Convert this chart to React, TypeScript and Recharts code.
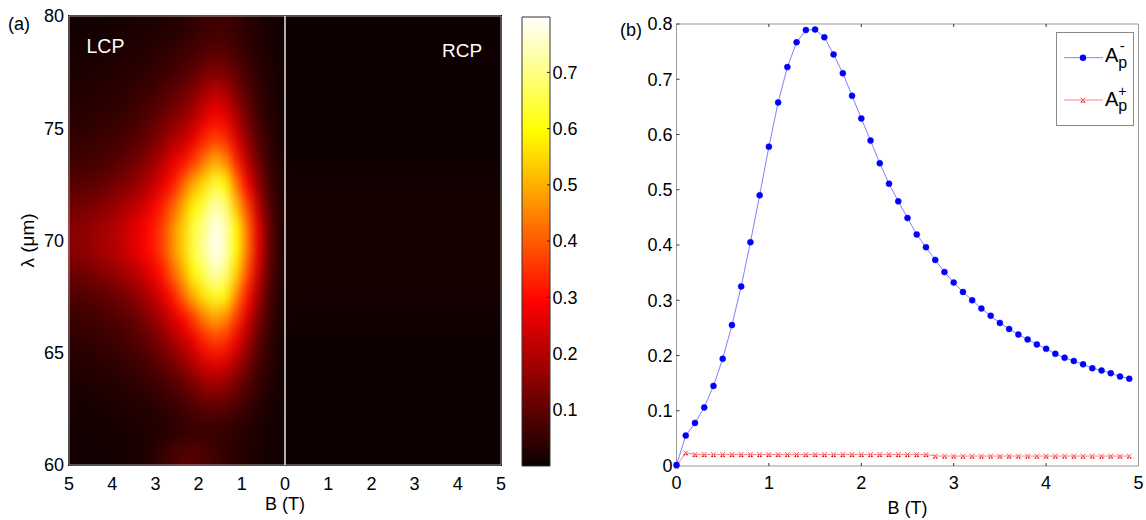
import React from 'react';
import {
  ScatterChart, Scatter, XAxis, YAxis,
  LineChart, Line, BarChart, Bar, Legend,
} from 'recharts';

const FONT = '"Liberation Sans", Arial, Helvetica, sans-serif';

// ---------- panel (a): absorption map ----------
// LCP side on a 0.25 T x 1 um grid (cell centres)
const lcpB = [0.125, 0.375, 0.625, 0.875, 1.125, 1.375, 1.625, 1.875, 2.125, 2.375,
  2.625, 2.875, 3.125, 3.375, 3.625, 3.875, 4.125, 4.375, 4.625, 4.875];
const lambdaRows = [79.5, 78.5, 77.5, 76.5, 75.5, 74.5, 73.5, 72.5, 71.5, 70.5,
  69.5, 68.5, 67.5, 66.5, 65.5, 64.5, 63.5, 62.5, 61.5, 60.5];
const lcpGrid = [
  [0.01, 0.015, 0.025, 0.035, 0.05, 0.06, 0.06, 0.055, 0.045, 0.035, 0.03, 0.025, 0.02, 0.018, 0.015, 0.014, 0.012, 0.01, 0.01, 0.01],
  [0.01, 0.02, 0.03, 0.045, 0.065, 0.085, 0.09, 0.08, 0.065, 0.055, 0.045, 0.038, 0.032, 0.028, 0.025, 0.022, 0.02, 0.018, 0.016, 0.015],
  [0.012, 0.025, 0.04, 0.065, 0.1, 0.13, 0.14, 0.125, 0.1, 0.08, 0.065, 0.055, 0.045, 0.04, 0.035, 0.03, 0.027, 0.024, 0.022, 0.02],
  [0.015, 0.03, 0.05, 0.09, 0.14, 0.2, 0.22, 0.19, 0.15, 0.12, 0.1, 0.08, 0.065, 0.055, 0.045, 0.04, 0.035, 0.032, 0.03, 0.028],
  [0.018, 0.035, 0.065, 0.12, 0.19, 0.26, 0.29, 0.25, 0.2, 0.165, 0.14, 0.11, 0.09, 0.072, 0.06, 0.052, 0.046, 0.042, 0.038, 0.035],
  [0.02, 0.045, 0.09, 0.16, 0.25, 0.34, 0.37, 0.33, 0.27, 0.22, 0.19, 0.15, 0.12, 0.095, 0.08, 0.068, 0.06, 0.054, 0.05, 0.046],
  [0.025, 0.055, 0.12, 0.21, 0.33, 0.46, 0.5, 0.44, 0.36, 0.3, 0.26, 0.2, 0.16, 0.13, 0.11, 0.092, 0.08, 0.072, 0.066, 0.06],
  [0.03, 0.07, 0.16, 0.29, 0.43, 0.59, 0.64, 0.56, 0.5, 0.41, 0.31, 0.26, 0.21, 0.175, 0.15, 0.13, 0.115, 0.1, 0.095, 0.09],
  [0.035, 0.09, 0.21, 0.37, 0.52, 0.69, 0.74, 0.66, 0.59, 0.49, 0.4, 0.32, 0.27, 0.23, 0.2, 0.175, 0.155, 0.14, 0.13, 0.12],
  [0.04, 0.11, 0.26, 0.43, 0.59, 0.74, 0.79, 0.71, 0.65, 0.54, 0.45, 0.36, 0.31, 0.27, 0.24, 0.21, 0.19, 0.175, 0.16, 0.15],
  [0.04, 0.11, 0.26, 0.43, 0.59, 0.74, 0.79, 0.72, 0.65, 0.54, 0.45, 0.36, 0.31, 0.27, 0.24, 0.21, 0.19, 0.175, 0.16, 0.15],
  [0.035, 0.1, 0.23, 0.38, 0.54, 0.69, 0.74, 0.67, 0.6, 0.49, 0.4, 0.31, 0.26, 0.22, 0.19, 0.17, 0.15, 0.135, 0.125, 0.115],
  [0.03, 0.08, 0.18, 0.31, 0.45, 0.59, 0.63, 0.57, 0.5, 0.41, 0.31, 0.25, 0.2, 0.165, 0.14, 0.12, 0.105, 0.095, 0.085, 0.08],
  [0.025, 0.065, 0.14, 0.24, 0.35, 0.45, 0.48, 0.44, 0.36, 0.29, 0.24, 0.19, 0.15, 0.12, 0.1, 0.085, 0.075, 0.068, 0.062, 0.056],
  [0.02, 0.05, 0.1, 0.18, 0.27, 0.34, 0.36, 0.33, 0.27, 0.22, 0.18, 0.14, 0.11, 0.09, 0.075, 0.063, 0.055, 0.05, 0.045, 0.042],
  [0.016, 0.04, 0.075, 0.13, 0.19, 0.24, 0.26, 0.24, 0.2, 0.16, 0.125, 0.1, 0.08, 0.065, 0.055, 0.046, 0.04, 0.036, 0.033, 0.03],
  [0.013, 0.03, 0.05, 0.085, 0.12, 0.155, 0.17, 0.16, 0.13, 0.1, 0.08, 0.065, 0.052, 0.044, 0.038, 0.032, 0.028, 0.025, 0.022, 0.02],
  [0.01, 0.02, 0.032, 0.05, 0.07, 0.088, 0.095, 0.092, 0.078, 0.062, 0.05, 0.04, 0.033, 0.028, 0.024, 0.02, 0.018, 0.016, 0.015, 0.014],
  [0.008, 0.014, 0.02, 0.03, 0.04, 0.048, 0.052, 0.054, 0.05, 0.045, 0.038, 0.03, 0.024, 0.02, 0.016, 0.014, 0.012, 0.011, 0.01, 0.01],
  [0.008, 0.012, 0.018, 0.026, 0.036, 0.048, 0.062, 0.078, 0.09, 0.088, 0.072, 0.05, 0.032, 0.022, 0.016, 0.012, 0.01, 0.01, 0.01, 0.01],
];
// RCP side is almost flat, one value per wavelength row
const rcpCol = [0.004, 0.004, 0.004, 0.004, 0.004, 0.004, 0.005, 0.01, 0.012, 0.012,
  0.012, 0.012, 0.011, 0.006, 0.005, 0.004, 0.004, 0.004, 0.004, 0.004];

const cMax = 0.7985;
const mapTicksB = [-5, -4, -3, -2, -1, 0, 1, 2, 3, 4, 5];
const mapTicksL = [60, 65, 70, 75, 80];
const barTicks = [0.1, 0.2, 0.3, 0.4, 0.5, 0.6, 0.7];
// B = 0 divider and the box round the map
const dividerPts = [{ x: 0, y: 60 }, { x: 0, y: 80 }];
const framePts = [{ x: -5, y: 60 }, { x: -5, y: 80 }, { x: 5, y: 80 }, { x: 5, y: 60 }, { x: -5, y: 60 }];

// ---------- panel (b): A_p versus B ----------
const fieldB = [0, 0.1, 0.2, 0.3, 0.4, 0.5, 0.6, 0.7, 0.8, 0.9, 1, 1.1, 1.2, 1.3, 1.4, 1.5, 1.6,
  1.7, 1.8, 1.9, 2, 2.1, 2.2, 2.3, 2.4, 2.5, 2.6, 2.7, 2.8, 2.9, 3, 3.1, 3.2, 3.3, 3.4, 3.5,
  3.6, 3.7, 3.8, 3.9, 4, 4.1, 4.2, 4.3, 4.4, 4.5, 4.6, 4.7, 4.8, 4.9];
const apMinus = [0.002, 0.055, 0.078, 0.106, 0.145, 0.194, 0.255, 0.325, 0.405, 0.49, 0.578,
  0.658, 0.722, 0.767, 0.789, 0.79, 0.776, 0.745, 0.711, 0.67, 0.629, 0.589, 0.548, 0.511,
  0.479, 0.449, 0.419, 0.396, 0.373, 0.351, 0.332, 0.315, 0.3, 0.285, 0.272, 0.259, 0.248,
  0.238, 0.229, 0.22, 0.212, 0.203, 0.196, 0.19, 0.184, 0.177, 0.173, 0.168, 0.162, 0.158];
const apPlus = [0, 0.024, 0.021, 0.021, 0.021, 0.021, 0.021, 0.021, 0.021, 0.021, 0.021,
  0.021, 0.021, 0.021, 0.021, 0.021, 0.021, 0.021, 0.021, 0.021, 0.021, 0.021, 0.021, 0.021,
  0.021, 0.021, 0.021, 0.021, 0.018, 0.018, 0.018, 0.018, 0.018, 0.018, 0.018, 0.018, 0.018,
  0.018, 0.018, 0.018, 0.018, 0.018, 0.018, 0.018, 0.018, 0.018, 0.018, 0.018, 0.018, 0.018];
const bTicks = [0, 1, 2, 3, 4, 5];
const aTicks = [0, 0.1, 0.2, 0.3, 0.4, 0.5, 0.6, 0.7, 0.8];

// matlab "hot" colormap
const hot = (v: number) => {
  const t = Math.max(0, Math.min(1, v / cMax));
  const k = t * 63 + 1;
  const r = Math.min(1, k / 24);
  const g = Math.max(0, Math.min(1, (k - 24) / 24));
  const b = Math.max(0, Math.min(1, (k - 48) / 16));
  return `rgb(${Math.round(r * 255)},${Math.round(g * 255)},${Math.round(b * 255)})`;
};

const heatCells = [
  ...lambdaRows.flatMap((lam, i) =>
    lcpB.map((b, j) => ({ x: -b, y: lam, w: 0.25, h: 1, v: lcpGrid[i][j] }))),
  ...lambdaRows.map((lam, i) => ({ x: 2.5, y: lam, w: 5, h: 1, v: rcpCol[i] })),
];

const lineRows = fieldB.map((b, i) => ({ b, am: apMinus[i], ap: apPlus[i] }));
const barRows = [{ name: 'cb', top: cMax }];

// plot area of panel (a) is 432 x 449 px for 10 T x 20 um
const PX_B = 43.2;
const PX_L = 22.45;

const HeatCell = (p: any) => {
  const { cx, cy, payload } = p;
  const w = payload.w * PX_B;
  const h = payload.h * PX_L;
  return <rect x={cx - w / 2 - 0.3} y={cy - h / 2 - 0.3} width={w + 0.6} height={h + 0.6} fill={hot(payload.v)} />;
};

const NoMark = () => <g />;

const XMark = (p: any) => {
  const { cx, cy, index } = p;
  const s = 2.4;
  return (
    <g key={`xm${index}`}>
      <path d={`M${cx - s},${cy - s}L${cx + s},${cy + s}M${cx - s},${cy + s}L${cx + s},${cy - s}`} stroke="#ff5a5a" strokeWidth={1} />
      <circle cx={cx - 1.2} cy={cy + 2} r={0.8} fill="#d00000" />
      <circle cx={cx + 1.2} cy={cy + 2} r={0.8} fill="#d00000" />
    </g>
  );
};

const LegendBox = () => (
  <svg width={78} height={94} style={{ display: 'block', fontFamily: FONT }}>
    <rect x={0.5} y={0.5} width={77} height={93} fill="#fff" stroke="#8a8a8a" />
    <line x1={8} x2={47} y1={25.7} y2={25.7} stroke="#8080ff" />
    <circle cx={27} cy={25.7} r={3.2} fill="#0000ff" />
    <text x={49} y={30.3} fontSize={20} fill="#000">
      A<tspan fontSize={16} dy={5.3}>p</tspan><tspan fontSize={15} dx={-7.5} dy={-16.5}>-</tspan>
    </text>
    <line x1={8} x2={47} y1={68} y2={68} stroke="#ff8080" />
    <XMark cx={27} cy={68} index={0} />
    <text x={49} y={73.7} fontSize={20} fill="#000">
      A<tspan fontSize={16} dy={5.3}>p</tspan><tspan fontSize={14} dx={-9} dy={-15}>+</tspan>
    </text>
  </svg>
);

const tickStyle = { fill: '#000', fontSize: 18, fontFamily: FONT };
const AX = '#9a9a9a';

export default function App() {
  return (
    <div style={{ position: 'relative', width: 1146, height: 520, fontFamily: FONT, background: '#fff', overflow: 'hidden' }}>
      <style>{'body{margin:0} .heat .heat-cells{filter:url(#heatBlur)}'}</style>
      <svg width={0} height={0} style={{ position: 'absolute' }}>
        <defs>
          <filter id="heatBlur" x="0" y="0" width="1" height="1" colorInterpolationFilters="sRGB">
            <feGaussianBlur stdDeviation="4 9" edgeMode="duplicate" />
            <feComponentTransfer>
              <feFuncA type="linear" slope="0" intercept="1" />
            </feComponentTransfer>
          </filter>
          <linearGradient id="hotGrad" x1="0" y1="1" x2="0" y2="0">
            <stop offset="0" stopColor="#0b0000" />
            <stop offset="0.365" stopColor="#ff0000" />
            <stop offset="0.746" stopColor="#ffff00" />
            <stop offset="1" stopColor="#ffffff" />
          </linearGradient>
        </defs>
      </svg>

      {/* panel (a) map */}
      <div className="heat" style={{ position: 'absolute', left: 0, top: 0 }}>
        <ScatterChart width={510} height={520} margin={{ top: 16, right: 9, bottom: 25, left: 29 }}>
          <XAxis
            dataKey="x" type="number" domain={[-5, 5]} ticks={mapTicksB}
            tickFormatter={(v: number) => String(Math.abs(v))}
            tick={tickStyle} tickLine={false} tickSize={0} tickMargin={12}
            axisLine={{ stroke: AX }} height={30}
            label={{ value: 'B (T)', position: 'bottom', offset: 2, fill: '#000', fontSize: 18, fontFamily: FONT }}
          />
          <YAxis
            dataKey="y" type="number" domain={[60, 80]} ticks={mapTicksL}
            tick={tickStyle} tickLine={false} tickSize={0} tickMargin={5}
            axisLine={{ stroke: AX }} width={40}
            label={{ value: 'λ (μm)', angle: -90, position: 'insideLeft', offset: -2, fill: '#000', fontSize: 19, fontFamily: FONT, style: { textAnchor: 'middle' } }}
          />
          <Scatter className="heat-cells" data={heatCells} shape={(p: any) => <HeatCell {...p} />} isAnimationActive={false} />
          <Scatter data={framePts} line={{ stroke: AX, strokeWidth: 1 }} shape={NoMark} isAnimationActive={false} />
          <Scatter data={dividerPts} line={{ stroke: '#e8e8e8', strokeWidth: 1.5 }} shape={NoMark} isAnimationActive={false} />
        </ScatterChart>
      </div>

      {/* colour bar */}
      <div style={{ position: 'absolute', left: 510, top: 0 }}>
        <BarChart width={100} height={520} data={barRows} margin={{ top: 17, right: 10, bottom: 54, left: 12 }} barCategoryGap={0}>
          <XAxis dataKey="name" hide />
          <YAxis
            orientation="right" type="number" domain={[0, cMax]} ticks={barTicks}
            tick={tickStyle} tickSize={-3} tickMargin={5.5} tickLine={{ stroke: '#222' }}
            axisLine={false} width={50}
          />
          <Bar dataKey="top" fill="url(#hotGrad)" stroke="#333" strokeWidth={1} isAnimationActive={false} />
        </BarChart>
      </div>

      {/* panel (b) */}
      <div style={{ position: 'absolute', left: 600, top: 0 }}>
        <LineChart width={546} height={520} data={lineRows} margin={{ top: 23, right: 6.5, bottom: 24, left: 16.5 }}>
          <XAxis
            dataKey="b" type="number" domain={[0, 5]} ticks={bTicks}
            tick={tickStyle} tickSize={-3} tickMargin={13} tickLine={{ stroke: '#333' }}
            axisLine={{ stroke: AX }} height={30}
            label={{ value: 'B (T)', position: 'bottom', offset: 5, fill: '#000', fontSize: 18, fontFamily: FONT }}
          />
          <XAxis
            xAxisId="top" orientation="top" dataKey="b" type="number" domain={[0, 5]} ticks={bTicks}
            tickFormatter={() => ''} tickSize={-3} tickLine={{ stroke: '#333' }}
            axisLine={{ stroke: AX }} height={1}
          />
          <YAxis
            type="number" domain={[0, 0.8]} ticks={aTicks}
            tick={tickStyle} tickSize={-3} tickMargin={7} tickLine={{ stroke: '#333' }}
            axisLine={{ stroke: AX }} width={60}
          />
          <YAxis
            yAxisId="right" orientation="right" type="number" domain={[0, 0.8]} ticks={aTicks}
            tickFormatter={() => ''} tickSize={-3} tickLine={{ stroke: '#333' }}
            axisLine={{ stroke: AX }} width={1}
          />
          <Line
            dataKey="ap" stroke="#ff8080" strokeWidth={1}
            dot={(p: any) => <XMark key={`d${p.index}`} {...p} />}
            isAnimationActive={false}
          />
          <Line
            dataKey="am" stroke="#8080ff" strokeWidth={1}
            dot={{ r: 3, fill: '#0000ff', stroke: '#0000ff', strokeWidth: 0.5 }}
            isAnimationActive={false}
          />
          <Legend
            layout="vertical" align="center" verticalAlign="middle"
            content={() => <LegendBox />}
            wrapperStyle={{ position: 'absolute', left: 456, top: 32, width: 78, height: 94 }}
          />
        </LineChart>
      </div>

      {/* panel letters and map captions */}
      <svg width={1146} height={520} style={{ position: 'absolute', left: 0, top: 0, pointerEvents: 'none', fontFamily: FONT }}>
        <text x={8} y={29.5} fontSize={18} fill="#000">(a)</text>
        <text x={620} y={36} fontSize={18} fill="#000">(b)</text>
        <text x={86.5} y={53.3} fontSize={19.5} fill="#fff">LCP</text>
        <text x={442} y={56.7} fontSize={19} fill="#fff">RCP</text>
      </svg>
    </div>
  );
}
